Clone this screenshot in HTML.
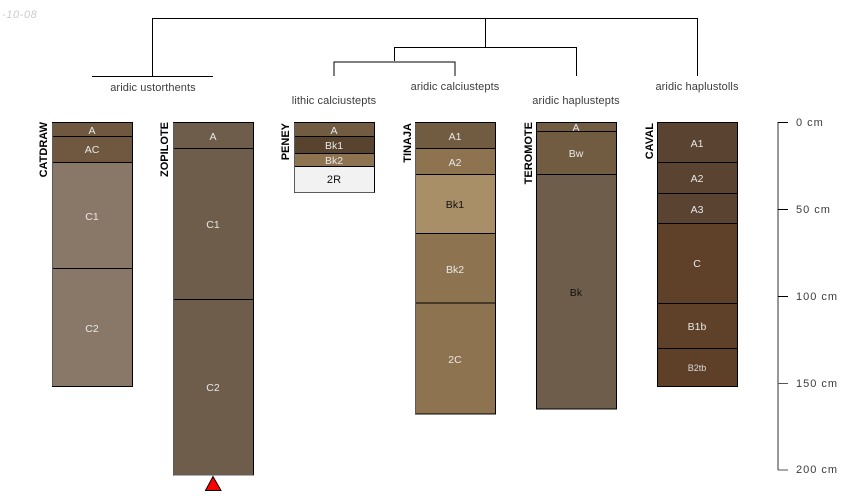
<!DOCTYPE html>
<html><head><meta charset="utf-8"><style>
html,body{margin:0;padding:0;background:#fff}
svg{display:block}
text{font-family:"Liberation Sans",sans-serif;font-size:11px}
.h{fill:#e8e8e8;text-anchor:middle;font-size:10.5px}
.t{fill:#3c3c3c;text-anchor:middle;letter-spacing:.1px}
.n{fill:#000;font-weight:bold;text-anchor:end}
.s{fill:#3c3c3c;letter-spacing:1px}
</style></head><body>
<svg width="850" height="500" viewBox="0 0 850 500" xmlns="http://www.w3.org/2000/svg">
<text x="2" y="18" style="font-style:italic;letter-spacing:.6px" fill="#cccccc">-10-08</text>
<g fill="none" stroke="#000" stroke-width="1">
<path d="M152.5 76.5V18.5H697.5V76"/>
<path d="M92 76.5H213"/>
<path d="M485.5 18.5V47.5"/>
<path d="M394.5 61V47.5H576.5V76"/>
<path d="M334 76V62H455V76"/>
</g>
<g>
<text class="t" x="153" y="91">aridic ustorthents</text>
<text class="t" x="334" y="104">lithic calciustepts</text>
<text class="t" x="455" y="90">aridic calciustepts</text>
<text class="t" x="576" y="104">aridic haplustepts</text>
<text class="t" x="697" y="90">aridic haplustolls</text>
</g>
<g stroke="#000" stroke-width="1">
<!-- CATDRAW -->
<rect x="52.5" y="122.5" width="80" height="14" fill="#6f583f"/>
<rect x="52.5" y="136.5" width="80" height="26" fill="#6f583f"/>
<rect x="52.5" y="162.5" width="80" height="106" fill="#897868"/>
<rect x="52.5" y="268.5" width="80" height="118" fill="#897868"/>
<!-- ZOPILOTE -->
<rect x="173.5" y="122.5" width="80" height="26" fill="#6e5d4b"/>
<rect x="173.5" y="148.5" width="80" height="151" fill="#6e5d4b"/>
<rect x="173.5" y="299.5" width="80" height="175.5" fill="#6e5d4b"/>
<!-- PENEY -->
<rect x="294.5" y="122.5" width="80" height="14" fill="#715b41"/>
<rect x="294.5" y="136.5" width="80" height="17" fill="#58442e"/>
<rect x="294.5" y="153.5" width="80" height="13" fill="#8d7350"/>
<rect x="294.5" y="166.5" width="80" height="26" fill="#f2f2f2"/>
<!-- TINAJA -->
<rect x="415.5" y="122.5" width="80" height="26" fill="#725c41"/>
<rect x="415.5" y="148.5" width="80" height="26" fill="#8d7350"/>
<rect x="415.5" y="174.5" width="80" height="59" fill="#a98f68"/>
<rect x="415.5" y="233.5" width="80" height="69.5" fill="#8d7350"/>
<rect x="415.5" y="303" width="80" height="111" fill="#8d7350"/>
<!-- TEROMOTE -->
<rect x="536.5" y="122.5" width="80" height="9" fill="#725c41"/>
<rect x="536.5" y="131.5" width="80" height="43" fill="#725c41"/>
<rect x="536.5" y="174.5" width="80" height="234.5" fill="#6e5d4b"/>
<!-- CAVAL -->
<rect x="657.5" y="122.5" width="80" height="40" fill="#5a4331"/>
<rect x="657.5" y="162.5" width="80" height="31" fill="#5a4331"/>
<rect x="657.5" y="193.5" width="80" height="30" fill="#5a4331"/>
<rect x="657.5" y="223.5" width="80" height="80" fill="#5e4128"/>
<rect x="657.5" y="303.5" width="80" height="45" fill="#5e4128"/>
<rect x="657.5" y="348.5" width="80" height="38" fill="#5e3f28"/>
</g>
<g fill="none" stroke="#5c5c5c" stroke-width="1">
<path d="M52.5 123V386M173.5 123V475M294.5 123V192.5M415.5 123V414"/>
<path d="M294.5 192.5H374.5M173.5 475H253.5"/>
</g>
<g>
<text class="h" x="92" y="134">A</text>
<text class="h" x="92" y="153">AC</text>
<text class="h" x="92" y="220">C1</text>
<text class="h" x="92" y="332">C2</text>
<text class="h" x="213" y="140">A</text>
<text class="h" x="213" y="228">C1</text>
<text class="h" x="213" y="391">C2</text>
<text class="h" x="334" y="134">A</text>
<text class="h" x="334" y="149">Bk1</text>
<text class="h" x="334" y="164">Bk2</text>
<text class="t" x="334" y="183" style="fill:#111">2R</text>
<text class="h" x="455" y="140">A1</text>
<text class="h" x="455" y="166">A2</text>
<text class="t" x="455" y="208" style="fill:#111;font-size:10.5px">Bk1</text>
<text class="h" x="455" y="273">Bk2</text>
<text class="h" x="455" y="363">2C</text>
<text class="h" x="576" y="131">A</text>
<text class="h" x="576" y="157">Bw</text>
<text class="t" x="576" y="296" style="fill:#111;font-size:10.5px">Bk</text>
<text class="h" x="697" y="147">A1</text>
<text class="h" x="697" y="182">A2</text>
<text class="h" x="697" y="213">A3</text>
<text class="h" x="697" y="267">C</text>
<text class="h" x="697" y="330">B1b</text>
<text class="h" x="697" y="371" style="font-size:9px;fill:#d8d8d8">B2tb</text>
</g>
<g>
<text class="n" transform="translate(47 122) rotate(-90)">CATDRAW</text>
<text class="n" transform="translate(168 122) rotate(-90)">ZOPILOTE</text>
<text class="n" transform="translate(289 123) rotate(-90)">PENEY</text>
<text class="n" transform="translate(411 123) rotate(-90)">TINAJA</text>
<text class="n" transform="translate(532 122) rotate(-90)">TEROMOTE</text>
<text class="n" transform="translate(653 123) rotate(-90)">CAVAL</text>
</g>
<path d="M205.5 490.5L213 476.5L221 490.5Z" fill="#f00" stroke="#000" stroke-width="1"/>
<g fill="none" stroke="#777" stroke-width="1.5">
<path d="M778 122V470"/>
</g>
<g fill="none" stroke="#000" stroke-width="1">
<path d="M778 122.5H788M778 209.5H788M778 296.5H788"/>
<path d="M778 383.5H788M778 470H788" stroke="#555"/>
</g>
<text class="s" x="796" y="126">0 cm</text>
<text class="s" x="796" y="213">50 cm</text>
<text class="s" x="796" y="300">100 cm</text>
<text class="s" x="796" y="387">150 cm</text>
<text class="s" x="796" y="473">200 cm</text>
</svg>
</body></html>
